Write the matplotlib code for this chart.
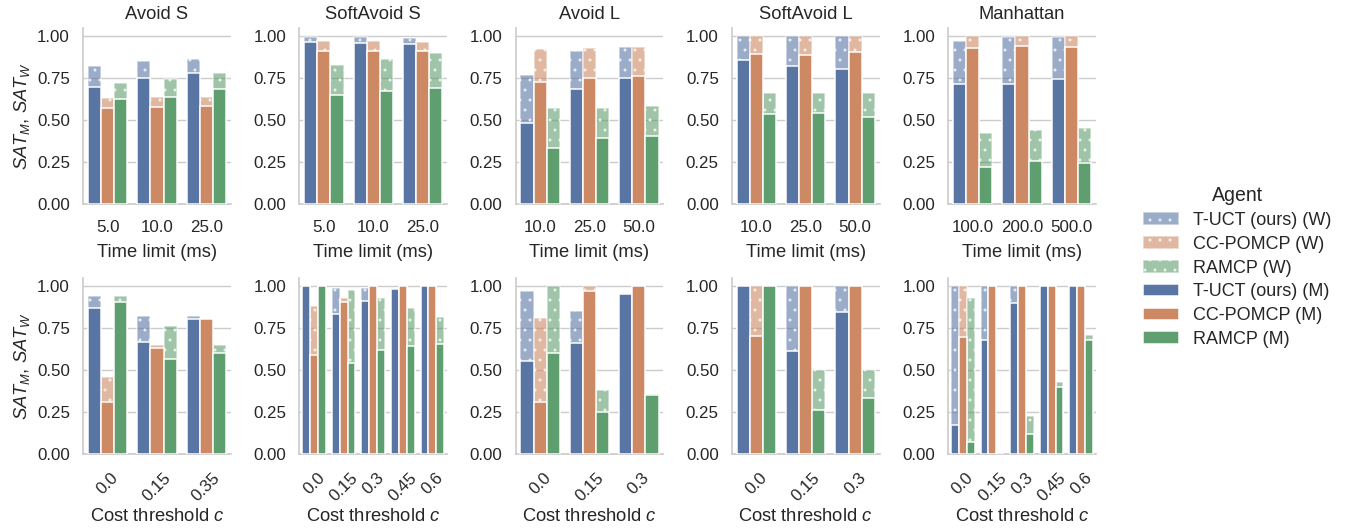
import matplotlib
matplotlib.use("Agg")
import matplotlib.pyplot as plt
from matplotlib.patches import Patch
import colorsys
import matplotlib.colors as mcolors

DPI = 60
def P(px):
    return px * 72.0 / DPI

# ---------------- data ----------------
agents = ["T-UCT (ours)", "CC-POMCP", "RAMCP"]
titles = ["Avoid S", "SoftAvoid S", "Avoid L", "SoftAvoid L", "Manhattan"]

time_ticks = [["5.0", "10.0", "25.0"], ["5.0", "10.0", "25.0"],
              ["10.0", "25.0", "50.0"], ["10.0", "25.0", "50.0"],
              ["100.0", "200.0", "500.0"]]
cost_ticks = [["0.0", "0.15", "0.35"], ["0.0", "0.15", "0.3", "0.45", "0.6"],
              ["0.0", "0.15", "0.3"], ["0.0", "0.15", "0.3"],
              ["0.0", "0.15", "0.3", "0.45", "0.6"]]

# rows: T-UCT, CC-POMCP, RAMCP
avoid_s_time_M = [[0.70, 0.75, 0.78], [0.572, 0.578, 0.582], [0.624, 0.64, 0.688]]
avoid_s_time_W = [[0.824, 0.854, 0.864], [0.632, 0.638, 0.64], [0.724, 0.744, 0.784]]
softavoid_s_time_M = [[0.968, 0.958, 0.952], [0.914, 0.914, 0.914], [0.65, 0.672, 0.694]]
softavoid_s_time_W = [[0.995, 0.995, 0.99], [0.97, 0.97, 0.966], [0.832, 0.868, 0.90]]
avoid_l_time_M = [[0.484, 0.688, 0.75], [0.73, 0.754, 0.764], [0.334, 0.394, 0.404]]
avoid_l_time_W = [[0.77, 0.914, 0.934], [0.922, 0.932, 0.938], [0.574, 0.574, 0.584]]
softavoid_l_time_M = [[0.858, 0.824, 0.806], [0.894, 0.89, 0.906], [0.538, 0.542, 0.52]]
softavoid_l_time_W = [[1.0, 1.0, 1.0], [1.0, 1.0, 1.0], [0.664, 0.664, 0.664]]
manhattan_time_M = [[0.716, 0.716, 0.744], [0.928, 0.944, 0.938], [0.22, 0.254, 0.246]]
manhattan_time_W = [[0.97, 0.994, 0.998], [1.0, 1.0, 1.0], [0.424, 0.444, 0.454]]

avoid_s_cost_M = [[0.87, 0.67, 0.804], [0.312, 0.632, 0.804], [0.906, 0.566, 0.60]]
avoid_s_cost_W = [[0.942, 0.826, 0.826], [0.462, 0.65, 0.804], [0.942, 0.762, 0.65]]
softavoid_s_cost_M = [[1.0, 0.835, 0.915, 0.985, 1.0], [0.592, 0.909, 1.0, 1.0, 1.0],
                      [1.0, 0.542, 0.622, 0.642, 0.658]]
softavoid_s_cost_W = [[1.0, 0.99, 0.99, 0.985, 1.0], [0.88, 0.933, 1.0, 1.0, 1.0],
                      [1.0, 0.98, 0.929, 0.869, 0.819]]
avoid_l_cost_M = [[0.552, 0.662, 0.953], [0.313, 0.975, 1.0], [0.602, 0.253, 0.351]]
avoid_l_cost_W = [[0.975, 0.855, 0.953], [0.813, 1.0, 1.0], [1.0, 0.381, 0.357]]
softavoid_l_cost_M = [[1.0, 0.612, 0.845], [0.702, 1.0, 1.0], [1.0, 0.261, 0.337]]
softavoid_l_cost_W = [[1.0, 1.0, 1.0], [1.0, 1.0, 1.0], [1.0, 0.502, 0.502]]
manhattan_cost_M = [[0.173, 0.678, 0.903, 1.0, 1.0], [0.698, 1.0, 1.0, 1.0, 1.0],
                    [0.07, 0.0, 0.122, 0.397, 0.682]]
manhattan_cost_W = [[1.0, 1.0, 1.0, 1.0, 1.0], [1.0, 1.0, 1.0, 1.0, 1.0],
                    [0.929, 0.0, 0.227, 0.431, 0.712]]

top_M = [avoid_s_time_M, softavoid_s_time_M, avoid_l_time_M, softavoid_l_time_M, manhattan_time_M]
top_W = [avoid_s_time_W, softavoid_s_time_W, avoid_l_time_W, softavoid_l_time_W, manhattan_time_W]
bot_M = [avoid_s_cost_M, softavoid_s_cost_M, avoid_l_cost_M, softavoid_l_cost_M, manhattan_cost_M]
bot_W = [avoid_s_cost_W, softavoid_s_cost_W, avoid_l_cost_W, softavoid_l_cost_W, manhattan_cost_W]

# ---------------- style ----------------
def desaturate(c, prop=0.75):
    r, g, b = mcolors.to_rgb(c)
    h, l, s = colorsys.rgb_to_hls(r, g, b)
    return colorsys.hls_to_rgb(h, l, s * prop)

base = ["#4C72B0", "#DD8452", "#55A868"]
colors = [desaturate(c) for c in base]
TXT = "#262626"
GRID = "#cccccc"

plt.rcParams.update({
    "font.family": ["Liberation Sans", "DejaVu Sans"],
    "mathtext.fontset": "custom",
    "mathtext.it": "Liberation Sans:italic",
    "mathtext.rm": "Liberation Sans",
    "text.color": TXT,
    "axes.labelcolor": TXT,
    "xtick.color": TXT,
    "ytick.color": TXT,
    "hatch.linewidth": P(1.2),
})

TICK_FS = P(16.9)
LAB_FS = P(18.4)

fig, axes = plt.subplots(2, 5, figsize=(1345 / DPI, 531 / DPI), dpi=DPI)
fig.subplots_adjust(left=83 / 1345, right=1096 / 1345, top=1 - 28 / 531,
                    bottom=1 - 454 / 531, wspace=68.3 / 148, hspace=74 / 176)

width = 0.8 / 3
ELW = P(1.5)

def draw(ax, Ms, Ws, ticks):
    n = len(ticks)
    for j in range(3):
        xs = [i + (j - 1) * width for i in range(n)]
        ax.bar(xs, Ws[j], width=width, color=colors[j], alpha=0.6, hatch=".",
               edgecolor="white", linewidth=ELW, zorder=2)
    for j in range(3):
        xs = [i + (j - 1) * width for i in range(n)]
        ax.bar(xs, Ms[j], width=width, color=colors[j],
               edgecolor="white", linewidth=ELW, zorder=3)
    ax.set_xlim(-0.5, n - 0.5)
    ax.set_ylim(0, 1.05)
    ax.set_yticks([0, 0.25, 0.5, 0.75, 1.0])
    ax.set_yticklabels(["0.00", "0.25", "0.50", "0.75", "1.00"])
    ax.set_xticks(range(n))
    ax.grid(axis="y", color=GRID, linewidth=P(1.4), zorder=0)
    ax.set_axisbelow(True)
    for s in ["top", "right"]:
        ax.spines[s].set_visible(False)
    for s in ["left", "bottom"]:
        ax.spines[s].set_color(GRID)
        ax.spines[s].set_linewidth(P(1.7))
    ax.tick_params(axis="both", length=0, labelsize=TICK_FS)
    ax.tick_params(axis="y", pad=P(13))
    ax.tick_params(axis="x", pad=P(16))

for k in range(5):
    ax = axes[0, k]
    draw(ax, top_M[k], top_W[k], time_ticks[k])
    ax.set_xticklabels(time_ticks[k])
    ax.set_title(titles[k], fontsize=LAB_FS, pad=P(9), color=TXT)
    ax.set_xlabel("Time limit (ms)", fontsize=LAB_FS, labelpad=P(9))

    ax = axes[1, k]
    draw(ax, bot_M[k], bot_W[k], cost_ticks[k])
    ax.set_xticklabels(cost_ticks[k], rotation=45, ha="center")
    ax.set_xlabel("Cost threshold $c$", fontsize=LAB_FS, labelpad=P(4))

for r in range(2):
    axes[r, 0].set_ylabel("$SAT_M$, $SAT_W$", fontsize=LAB_FS, labelpad=P(5))

handles = []
labels = []
for j in range(3):
    handles.append(Patch(facecolor=colors[j], alpha=0.6, hatch=".",
                         edgecolor="white", linewidth=ELW))
    labels.append(agents[j] + " (W)")
for j in range(3):
    handles.append(Patch(facecolor=colors[j], edgecolor="white", linewidth=ELW))
    labels.append(agents[j] + " (M)")

LEG_FS = P(18.0)
leg = fig.legend(handles, labels, title="Agent", loc="center left",
                 bbox_to_anchor=(1127 / 1345, 1 - 267 / 531), frameon=False,
                 fontsize=LEG_FS, title_fontsize=P(19.5),
                 handlelength=2.0, handleheight=0.7, labelspacing=0.38,
                 handletextpad=0.75)
leg.get_title().set_color(TXT)

fig.savefig("out.png", dpi=DPI)
